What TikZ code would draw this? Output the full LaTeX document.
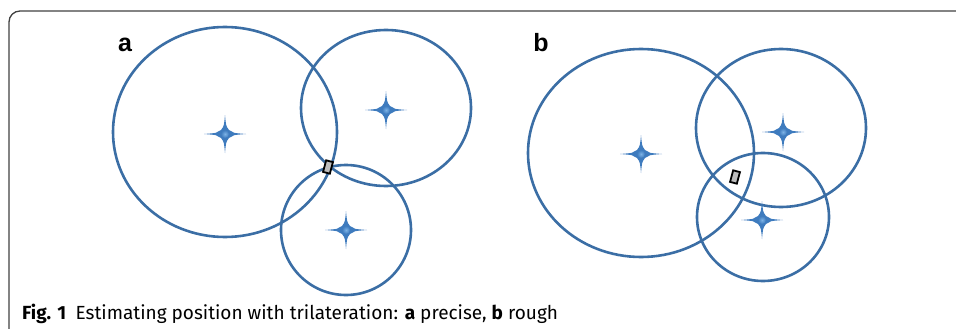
\documentclass[tikz,border=0pt]{standalone}
\usepackage{fontspec}
\setsansfont{Fira Sans}
\newfontfamily\panelfont{Liberation Sans}
\usetikzlibrary{positioning}
\definecolor{ring}{HTML}{3B6EA5}
\definecolor{starblue}{HTML}{3E7BBE}
\definecolor{starlight}{HTML}{7DB3E6}
\definecolor{fixgray}{HTML}{BDBDBD}

\begin{document}
\begin{tikzpicture}[x=1pt,y=-1pt,font=\sffamily]
  \tikzset{rangering/.style={draw=ring,line width=2.6pt},
    beacon/.pic={\fill[starblue]
      (0,-19) .. controls (1,-8) .. (4,-4) .. controls (8,-1) .. (21,0)
      .. controls (8,1) .. (4,4) .. controls (1,8) .. (0,19)
      .. controls (-1,8) .. (-4,4) .. controls (-8,1) .. (-21,0)
      .. controls (-8,-1) .. (-4,-4) .. controls (-1,-8) .. cycle;
      \shade[inner color=starlight,outer color=starblue] (0,0) circle (4);},
    fixbox/.style={draw=black,line width=1.8pt,fill=fixgray,minimum width=7pt,minimum height=12pt,inner sep=0pt,rotate=-15},
    panel/.style={font=\panelfont\bfseries\fontsize{25}{25}\selectfont,anchor=base,inner sep=0pt}}
  \useasboundingbox (0,0) rectangle (956,329);
  \draw[black!75,line width=1.3pt,rounded corners=11pt] (9,335) -- (9,11) -- (962,11);
  \node[panel] (labela) at (125,52) {a};
  \node[panel] (labelb) at (541,52) {b};
  \draw[rangering] (225,132) ellipse [x radius=112pt,y radius=105pt];
  \draw[rangering] (386,108) ellipse [x radius=85pt,y radius=78pt];
  \draw[rangering] (346,230) ellipse [x radius=65pt,y radius=65pt];
  \pic at (225,134) {beacon};
  \pic at (386,110) {beacon};
  \pic at (346,230) {beacon};
  \node[fixbox] (fixa) at (328,167) {};
  \draw[rangering] (641,153) ellipse [x radius=113pt,y radius=104pt];
  \draw[rangering] (781,128) ellipse [x radius=85pt,y radius=79pt];
  \draw[rangering] (763,217) ellipse [x radius=66pt,y radius=64pt];
  \pic at (641,154) {beacon};
  \pic at (783,132) {beacon};
  \pic at (762,220) {beacon};
  \node[fixbox] (fixb) at (735,177) {};
  \node[anchor=base west,inner sep=0pt,font=\sffamily\fontsize{19}{21}\selectfont] (caption) at (22,319)
    {\textbf{Fig. 1}\hspace{0.5em}Estimating position with trilateration: \textbf{a} precise, \textbf{b} rough};
\end{tikzpicture}
\end{document}
